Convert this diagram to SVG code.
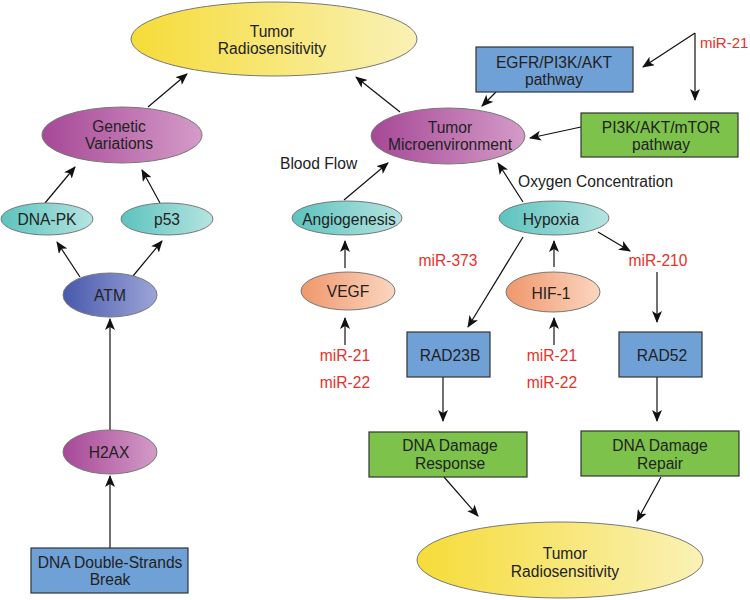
<svg xmlns="http://www.w3.org/2000/svg" width="750" height="600" viewBox="0 0 750 600">
<style>
text{font-family:"Liberation Sans",Arial,sans-serif;font-size:15.6px;fill:#222;text-anchor:middle}
.red{fill:#e8312a}
.st{text-anchor:start}
.ell{stroke:#777;stroke-width:1}
.box{stroke:#333;stroke-width:1.2}
.blue{fill:#6fa0d6}
.green{fill:#7dc24b}
#edges line,#edges path{stroke:#111;stroke-width:1.2;fill:none}
</style>
<defs>
<marker id="ah" markerWidth="12" markerHeight="10" refX="11" refY="5" orient="auto" markerUnits="userSpaceOnUse">
<path d="M0,0 L12,5 L0,10 L3,5 z" fill="#111"/>
</marker>
<linearGradient id="gy" x1="0" y1="0" x2="1" y2="0"><stop offset="0" stop-color="#f5dc38"/><stop offset="1" stop-color="#faf1b6"/></linearGradient>
<linearGradient id="gm" x1="0" y1="0" x2="1" y2="0"><stop offset="0" stop-color="#a64896"/><stop offset="1" stop-color="#d49bc8"/></linearGradient>
<linearGradient id="gt" x1="0" y1="0" x2="1" y2="0"><stop offset="0" stop-color="#5cc3be"/><stop offset="1" stop-color="#b6e4e1"/></linearGradient>
<linearGradient id="gb" x1="0" y1="0" x2="1" y2="0"><stop offset="0" stop-color="#4859ab"/><stop offset="1" stop-color="#9ca5d8"/></linearGradient>
<linearGradient id="go" x1="0" y1="0" x2="1" y2="0"><stop offset="0" stop-color="#f0976c"/><stop offset="1" stop-color="#fbd6c0"/></linearGradient>
</defs>

<g id="edges">
<line x1="110" y1="548" x2="110" y2="476" marker-end="url(#ah)"/>
<line x1="110" y1="430" x2="110" y2="319" marker-end="url(#ah)"/>
<line x1="80" y1="277" x2="57" y2="242" marker-end="url(#ah)"/>
<line x1="133" y1="276" x2="162" y2="241" marker-end="url(#ah)"/>
<line x1="45" y1="203" x2="75" y2="167" marker-end="url(#ah)"/>
<line x1="160" y1="203" x2="142" y2="170" marker-end="url(#ah)"/>
<line x1="148" y1="107" x2="187" y2="74" marker-end="url(#ah)"/>
<line x1="400" y1="112" x2="356" y2="77" marker-end="url(#ah)"/>
<line x1="496" y1="92" x2="482" y2="106" marker-end="url(#ah)"/>
<line x1="581" y1="127" x2="530" y2="138" marker-end="url(#ah)"/>
<line x1="695" y1="33" x2="643" y2="67" marker-end="url(#ah)"/>
<line x1="695" y1="33" x2="695" y2="100" marker-end="url(#ah)"/>
<line x1="344" y1="200" x2="388" y2="163" marker-end="url(#ah)"/>
<line x1="523" y1="202" x2="498" y2="163" marker-end="url(#ah)"/>
<line x1="345" y1="268" x2="345" y2="241" marker-end="url(#ah)"/>
<line x1="345" y1="345" x2="345" y2="318" marker-end="url(#ah)"/>
<line x1="523" y1="237" x2="468" y2="327" marker-end="url(#ah)"/>
<line x1="554" y1="267" x2="554" y2="241" marker-end="url(#ah)"/>
<line x1="554" y1="345" x2="554" y2="318" marker-end="url(#ah)"/>
<line x1="598" y1="232" x2="630" y2="251" marker-end="url(#ah)"/>
<line x1="657" y1="272" x2="657" y2="322" marker-end="url(#ah)"/>
<line x1="443" y1="377" x2="443" y2="421" marker-end="url(#ah)"/>
<line x1="657" y1="377" x2="657" y2="421" marker-end="url(#ah)"/>
<line x1="444" y1="477" x2="478" y2="516" marker-end="url(#ah)"/>
<line x1="661" y1="477" x2="637" y2="521" marker-end="url(#ah)"/>
</g>

<g id="top-radiosensitivity">
<ellipse class="ell" cx="274" cy="39" rx="143" ry="37" fill="url(#gy)"/>
<text x="272" y="37">Tumor</text>
<text x="272" y="54">Radiosensitivity</text>
</g>
<g id="genetic-variations">
<ellipse class="ell" cx="122" cy="135" rx="80" ry="28" fill="url(#gm)"/>
<text x="119" y="131.5">Genetic</text>
<text x="119" y="148.5">Variations</text>
</g>
<g id="dna-pk">
<ellipse class="ell" cx="47" cy="219" rx="46" ry="16" fill="url(#gt)"/>
<text x="47" y="224.5">DNA-PK</text>
</g>
<g id="p53">
<ellipse class="ell" cx="167" cy="219" rx="46" ry="16" fill="url(#gt)"/>
<text x="167" y="224.5">p53</text>
</g>
<g id="atm">
<ellipse class="ell" cx="110" cy="295" rx="47" ry="22" fill="url(#gb)"/>
<text x="110" y="300.5">ATM</text>
</g>
<g id="h2ax">
<ellipse class="ell" cx="110" cy="452" rx="47" ry="22" fill="url(#gm)"/>
<text x="109" y="458">H2AX</text>
</g>
<g id="dsb">
<rect class="box blue" x="31" y="548" width="157" height="45"/>
<text x="110" y="567.5">DNA Double-Strands</text>
<text x="110" y="584.5">Break</text>
</g>

<g id="tumor-microenvironment">
<ellipse class="ell" cx="448" cy="136" rx="77" ry="28" fill="url(#gm)"/>
<text x="450" y="132.5">Tumor</text>
<text x="450" y="149.5">Microenvironment</text>
</g>
<g id="egfr">
<rect class="box blue" x="476" y="47" width="157" height="45"/>
<text x="554" y="67.5">EGFR/PI3K/AKT</text>
<text x="554" y="84.5">pathway</text>
</g>
<g id="pi3k-mtor">
<rect class="box green" x="581" y="113" width="157" height="44"/>
<text x="661" y="132.5">PI3K/AKT/mTOR</text>
<text x="661" y="149.5">pathway</text>
</g>
<g id="mir21-top"><text class="red st" x="700" y="47.5" style="font-size:15px">miR-21</text></g>
<g id="label-blood-flow"><text class="st" x="280" y="168.5">Blood Flow</text></g>
<g id="label-oxygen"><text class="st" x="518" y="186.5">Oxygen Concentration</text></g>
<g id="angiogenesis">
<ellipse class="ell" cx="347" cy="218" rx="55" ry="17" fill="url(#gt)"/>
<text x="349" y="224.5">Angiogenesis</text>
</g>
<g id="hypoxia">
<ellipse class="ell" cx="554" cy="218" rx="55" ry="17" fill="url(#gt)"/>
<text x="551" y="224.5">Hypoxia</text>
</g>
<g id="mir373"><text class="red" x="448" y="265.5">miR-373</text></g>
<g id="mir210"><text class="red" x="658" y="265.5">miR-210</text></g>
<g id="vegf">
<ellipse class="ell" cx="348" cy="291" rx="47" ry="19" fill="url(#go)"/>
<text x="348" y="296.5">VEGF</text>
</g>
<g id="hif1">
<ellipse class="ell" cx="553" cy="292" rx="47" ry="20" fill="url(#go)"/>
<text x="551" y="298.5">HIF-1</text>
</g>
<g id="mir-vegf">
<text class="red" x="345" y="360.5">miR-21</text>
<text class="red" x="345" y="387.5">miR-22</text>
</g>
<g id="mir-hif1">
<text class="red" x="552" y="360.5">miR-21</text>
<text class="red" x="552" y="387.5">miR-22</text>
</g>
<g id="rad23b">
<rect class="box blue" x="407" y="332" width="83" height="45"/>
<text x="450" y="360.5">RAD23B</text>
</g>
<g id="rad52">
<rect class="box blue" x="619" y="332" width="83" height="45"/>
<text x="662" y="360.5">RAD52</text>
</g>
<g id="dd-response">
<rect class="box green" x="369" y="432" width="158" height="45"/>
<text x="450" y="450.5">DNA Damage</text>
<text x="450" y="468.5">Response</text>
</g>
<g id="dd-repair">
<rect class="box green" x="581" y="431" width="158" height="45"/>
<text x="660" y="450.5">DNA Damage</text>
<text x="660" y="468.5">Repair</text>
</g>
<g id="bottom-radiosensitivity">
<ellipse class="ell" cx="560" cy="560" rx="143" ry="38" fill="url(#gy)"/>
<text x="565" y="558.5">Tumor</text>
<text x="565" y="576.5">Radiosensitivity</text>
</g>
</svg>
